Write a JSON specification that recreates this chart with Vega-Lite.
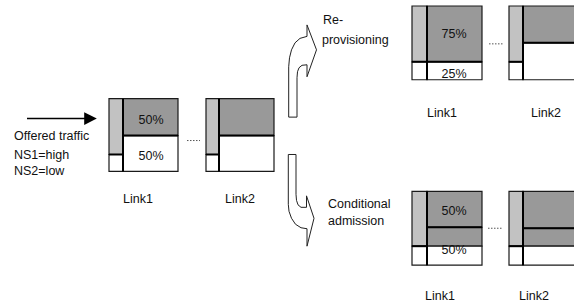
{
  "$schema": "https://vega.github.io/schema/vega-lite/v6.json",
  "autosize": {"type": "fit", "contains": "padding"},
  "width": 574,
  "height": 303,
  "padding": 0,
  "background": "white",
  "config": {"view": {"stroke": null}},
  "datasets": {
    "cells": [
      {"box": "A", "x": 109, "x2": 123, "y": 99, "y2": 155, "f": "light"},
      {"box": "A", "x": 109, "x2": 123, "y": 155, "y2": 172, "f": "none"},
      {"box": "A", "x": 123, "x2": 178, "y": 99, "y2": 136, "f": "dark"},
      {"box": "A", "x": 123, "x2": 178, "y": 136, "y2": 172, "f": "none"},
      {"box": "B", "x": 206, "x2": 219, "y": 99, "y2": 155, "f": "light"},
      {"box": "B", "x": 206, "x2": 219, "y": 155, "y2": 172, "f": "none"},
      {"box": "B", "x": 219, "x2": 274, "y": 99, "y2": 136, "f": "dark"},
      {"box": "B", "x": 219, "x2": 274, "y": 136, "y2": 172, "f": "none"},
      {"box": "C", "x": 412, "x2": 427, "y": 6, "y2": 62, "f": "light"},
      {"box": "C", "x": 412, "x2": 427, "y": 62, "y2": 80, "f": "none"},
      {"box": "C", "x": 427, "x2": 482, "y": 6, "y2": 62, "f": "dark"},
      {"box": "C", "x": 427, "x2": 482, "y": 62, "y2": 80, "f": "none"},
      {"box": "D", "x": 509, "x2": 523, "y": 6, "y2": 62, "f": "light"},
      {"box": "D", "x": 509, "x2": 523, "y": 62, "y2": 80, "f": "none"},
      {"box": "D", "x": 523, "x2": 580, "y": 6, "y2": 43, "f": "dark"},
      {"box": "D", "x": 523, "x2": 580, "y": 43, "y2": 80, "f": "none"},
      {"box": "E", "x": 412, "x2": 427, "y": 192, "y2": 247, "f": "light"},
      {"box": "E", "x": 412, "x2": 427, "y": 247, "y2": 266, "f": "none"},
      {"box": "E", "x": 427, "x2": 482, "y": 192, "y2": 228, "f": "dark"},
      {"box": "E", "x": 427, "x2": 482, "y": 228, "y2": 247, "f": "dark"},
      {"box": "E", "x": 427, "x2": 482, "y": 247, "y2": 266, "f": "none"},
      {"box": "F", "x": 509, "x2": 523, "y": 192, "y2": 247, "f": "light"},
      {"box": "F", "x": 509, "x2": 523, "y": 247, "y2": 266, "f": "none"},
      {"box": "F", "x": 523, "x2": 580, "y": 192, "y2": 229, "f": "dark"},
      {"box": "F", "x": 523, "x2": 580, "y": 229, "y2": 247, "f": "dark"},
      {"box": "F", "x": 523, "x2": 580, "y": 247, "y2": 266, "f": "none"}
    ],
    "dividers": [
      {"x": 123, "x2": 178, "y": 136, "y2": 136},
      {"x": 109, "x2": 123, "y": 155, "y2": 155},
      {"x": 123, "x2": 123, "y": 99, "y2": 172},
      {"x": 219, "x2": 274, "y": 136, "y2": 136},
      {"x": 206, "x2": 219, "y": 155, "y2": 155},
      {"x": 219, "x2": 219, "y": 99, "y2": 172},
      {"x": 412, "x2": 482, "y": 62, "y2": 62},
      {"x": 427, "x2": 427, "y": 6, "y2": 80},
      {"x": 523, "x2": 580, "y": 43, "y2": 43},
      {"x": 509, "x2": 523, "y": 62, "y2": 62},
      {"x": 523, "x2": 523, "y": 6, "y2": 80},
      {"x": 427, "x2": 482, "y": 228, "y2": 228},
      {"x": 412, "x2": 427, "y": 247, "y2": 247},
      {"x": 427, "x2": 427, "y": 192, "y2": 266},
      {"x": 523, "x2": 580, "y": 229, "y2": 229},
      {"x": 509, "x2": 523, "y": 247, "y2": 247},
      {"x": 523, "x2": 523, "y": 192, "y2": 266}
    ],
    "dots": [
      {"x": 187, "x2": 200, "y": 141, "y2": 141},
      {"x": 489, "x2": 503, "y": 44, "y2": 44},
      {"x": 488, "x2": 503, "y": 229, "y2": 229}
    ],
    "bent": [
      {"arrow": "up", "i": 0, "x": 288.7, "y": 117.5},
      {"arrow": "up", "i": 1, "x": 288.7, "y": 67},
      {"arrow": "up", "i": 2, "x": 289.5, "y": 58},
      {"arrow": "up", "i": 3, "x": 291.5, "y": 50},
      {"arrow": "up", "i": 4, "x": 295, "y": 43},
      {"arrow": "up", "i": 5, "x": 300, "y": 38.5},
      {"arrow": "up", "i": 6, "x": 307, "y": 36.5},
      {"arrow": "up", "i": 7, "x": 307, "y": 25},
      {"arrow": "up", "i": 8, "x": 316.5, "y": 50},
      {"arrow": "up", "i": 9, "x": 307, "y": 77},
      {"arrow": "up", "i": 10, "x": 307, "y": 65},
      {"arrow": "up", "i": 11, "x": 302, "y": 65.5},
      {"arrow": "up", "i": 12, "x": 299, "y": 68},
      {"arrow": "up", "i": 13, "x": 297.5, "y": 72},
      {"arrow": "up", "i": 14, "x": 297, "y": 78},
      {"arrow": "up", "i": 15, "x": 297, "y": 117.5},
      {"arrow": "down", "i": 0, "x": 288.3, "y": 155},
      {"arrow": "down", "i": 1, "x": 288.3, "y": 205},
      {"arrow": "down", "i": 2, "x": 289, "y": 212},
      {"arrow": "down", "i": 3, "x": 291.5, "y": 219},
      {"arrow": "down", "i": 4, "x": 295.5, "y": 225},
      {"arrow": "down", "i": 5, "x": 301, "y": 228.5},
      {"arrow": "down", "i": 6, "x": 307, "y": 229.5},
      {"arrow": "down", "i": 7, "x": 307, "y": 247},
      {"arrow": "down", "i": 8, "x": 314, "y": 219},
      {"arrow": "down", "i": 9, "x": 306.5, "y": 196.5},
      {"arrow": "down", "i": 10, "x": 306.5, "y": 208},
      {"arrow": "down", "i": 11, "x": 301, "y": 208},
      {"arrow": "down", "i": 12, "x": 298, "y": 205.5},
      {"arrow": "down", "i": 13, "x": 296.5, "y": 201},
      {"arrow": "down", "i": 14, "x": 296, "y": 195},
      {"arrow": "down", "i": 15, "x": 296, "y": 155}
    ],
    "shaft": [{"x": 27, "x2": 87, "y": 119, "y2": 119}],
    "head": [{"x": 90.5, "y": 119}],
    "centred": [
      {"t": "50%", "x": 151, "y": 120},
      {"t": "50%", "x": 151, "y": 157},
      {"t": "75%", "x": 454, "y": 34},
      {"t": "25%", "x": 454, "y": 74},
      {"t": "50%", "x": 454, "y": 212},
      {"t": "50%", "x": 454, "y": 251},
      {"t": "Link1", "x": 138, "y": 200},
      {"t": "Link2", "x": 240, "y": 200},
      {"t": "Link1", "x": 442, "y": 113},
      {"t": "Link2", "x": 546, "y": 113},
      {"t": "Link1", "x": 440, "y": 297},
      {"t": "Link2", "x": 534, "y": 297}
    ],
    "notes": [
      {"t": "Offered traffic", "x": 14, "y": 136},
      {"t": "NS1=high", "x": 14, "y": 156},
      {"t": "NS2=low", "x": 14, "y": 172},
      {"t": "Re-", "x": 323, "y": 20},
      {"t": "provisioning", "x": 322, "y": 40},
      {"t": "Conditional", "x": 328, "y": 205},
      {"t": "admission", "x": 328, "y": 222}
    ]
  },
  "layer": [
    {
      "data": {"name": "cells"},
      "mark": {"type": "rect", "stroke": "#1a1a1a", "strokeWidth": 1.2, "clip": true},
      "encoding": {
        "x": {"field": "x", "type": "quantitative", "scale": {"domain": [0, 574], "nice": false, "zero": false}, "axis": null},
        "x2": {"field": "x2"},
        "y": {"field": "y", "type": "quantitative", "scale": {"domain": [0, 303], "nice": false, "zero": false, "reverse": true}, "axis": null},
        "y2": {"field": "y2"},
        "fill": {"field": "f", "type": "nominal", "scale": {"domain": ["dark", "light", "none"], "range": ["#999999", "#c2c2c2", "#ffffff"]}, "legend": null}
      }
    },
    {
      "data": {"name": "dividers"},
      "mark": {"type": "rule", "color": "#000000", "strokeWidth": 2, "clip": true},
      "encoding": {
        "x": {"field": "x", "type": "quantitative"},
        "x2": {"field": "x2"},
        "y": {"field": "y", "type": "quantitative"},
        "y2": {"field": "y2"}
      }
    },
    {
      "data": {"name": "dots"},
      "mark": {"type": "rule", "color": "#555555", "strokeWidth": 1, "strokeDash": [1.5, 1.5]},
      "encoding": {
        "x": {"field": "x", "type": "quantitative"},
        "x2": {"field": "x2"},
        "y": {"field": "y", "type": "quantitative"},
        "y2": {"field": "y2"}
      }
    },
    {
      "data": {"name": "bent"},
      "mark": {"type": "line", "interpolate": "linear-closed", "color": "#222222", "strokeWidth": 1},
      "encoding": {
        "x": {"field": "x", "type": "quantitative"},
        "y": {"field": "y", "type": "quantitative"},
        "detail": {"field": "arrow", "type": "nominal"},
        "order": {"field": "i", "type": "quantitative"}
      }
    },
    {
      "data": {"name": "shaft"},
      "mark": {"type": "rule", "color": "#000000", "strokeWidth": 1.5},
      "encoding": {
        "x": {"field": "x", "type": "quantitative"},
        "x2": {"field": "x2"},
        "y": {"field": "y", "type": "quantitative"},
        "y2": {"field": "y2"}
      }
    },
    {
      "data": {"name": "head"},
      "mark": {"type": "point", "shape": "M-1,-1L1,0L-1,1Z", "filled": true, "color": "#000000", "opacity": 1, "size": 160},
      "encoding": {
        "x": {"field": "x", "type": "quantitative"},
        "y": {"field": "y", "type": "quantitative"}
      }
    },
    {
      "data": {"name": "centred"},
      "mark": {"type": "text", "align": "center", "baseline": "middle", "font": "Liberation Sans", "fontSize": 12.5, "color": "#111111"},
      "encoding": {
        "x": {"field": "x", "type": "quantitative"},
        "y": {"field": "y", "type": "quantitative"},
        "text": {"field": "t", "type": "nominal"}
      }
    },
    {
      "data": {"name": "notes"},
      "mark": {"type": "text", "align": "left", "baseline": "middle", "font": "Liberation Sans", "fontSize": 12.5, "color": "#111111"},
      "encoding": {
        "x": {"field": "x", "type": "quantitative"},
        "y": {"field": "y", "type": "quantitative"},
        "text": {"field": "t", "type": "nominal"}
      }
    }
  ]
}
